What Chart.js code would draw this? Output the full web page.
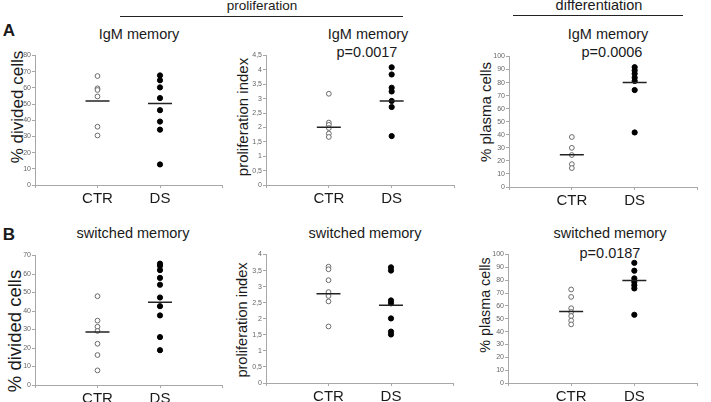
<!DOCTYPE html>
<html>
<head>
<meta charset="utf-8">
<script src="https://cdn.jsdelivr.net/npm/chart.js@4.4.1/dist/chart.umd.min.js"></script>
<style>
  html, body { margin: 0; padding: 0; background: #fff; }
  body {
    width: 711px; height: 402px; position: relative; overflow: hidden;
    font-family: "Liberation Sans", Arial, sans-serif; color: #1a1a1a;
  }
  canvas { position: absolute; }
  .lbl { position: absolute; transform: translate(-50%, -50%); white-space: nowrap; line-height: 1; font-size: 14.5px; }
  .ytl { position: absolute; transform: translate(-50%, -50%) rotate(-90deg); white-space: nowrap; line-height: 1; }
  .rule { position: absolute; height: 0; border-top: 1px solid #222; }
</style>
</head>
<body>

<!-- group headers -->
<div class="lbl" style="left:262px; top:6px; font-size:13.5px;">proliferation</div>
<div class="rule" style="left:120px; top:16px; width:283px;"></div>
<div class="lbl" style="left:599px; top:4.5px;">differentiation</div>
<div class="rule" style="left:513px; top:15px; width:170px;"></div>

<div class="lbl" style="left:9px; top:30px; font-size:17px; font-weight:bold;">A</div>
<div class="lbl" style="left:9px; top:234px; font-size:17px; font-weight:bold;">B</div>

<!-- panel titles -->
<div class="lbl" style="left:139px; top:34px;">IgM memory</div>
<div class="lbl" style="left:368px; top:34px;">IgM memory</div>
<div class="lbl" style="left:367px; top:52px;">p=0.0017</div>
<div class="lbl" style="left:608px; top:34px;">IgM memory</div>
<div class="lbl" style="left:612px; top:52px;">p=0.0006</div>
<div class="lbl" style="left:133px; top:233px;">switched memory</div>
<div class="lbl" style="left:365px; top:233px;">switched memory</div>
<div class="lbl" style="left:610px; top:233px;">switched memory</div>
<div class="lbl" style="left:610px; top:252.5px;">p=0.0187</div>

<!-- y axis titles -->
<div class="ytl" style="left:17px; top:107px; font-size:17px;">% divided cells</div>
<div class="ytl" style="left:242px; top:117px; font-size:15px;">proliferation index</div>
<div class="ytl" style="left:485px; top:112px; font-size:15px;">% plasma cells</div>
<div class="ytl" style="left:15px; top:331px; font-size:18.5px;">% divided cells</div>
<div class="ytl" style="left:242px; top:320px; font-size:14.6px;">proliferation index</div>
<div class="ytl" style="left:485px; top:305px; font-size:14.3px;">% plasma cells</div>

<script>
// ---- data ----
const groups = ['CTR', 'DS'];

// A: IgM memory
const igmDividedCTR = [67.3, 59.7, 58.7, 54.7, 36.0, 30.6];
const igmDividedDS = [67.7, 64.7, 60.3, 53.7, 46.2, 39.2, 34.2, 12.7];
const igmDividedMean = [51.9, 50.4];

const igmIndexCTR = [3.17, 2.17, 2.09, 1.98, 1.79, 1.67];
const igmIndexDS = [4.09, 3.84, 3.38, 3.25, 2.92, 2.71, 1.70];
const igmIndexMean = [2.01, 2.92];

const igmPlasmaCTR = [38.3, 30.0, 24.5, 17.5, 14.5];
const igmPlasmaDS = [91.8, 89.3, 86.8, 83.8, 81.3, 74.3, 41.8];
const igmPlasmaMean = [24.8, 80.0];

// B: switched memory
const swDividedCTR = [48.0, 34.8, 31.5, 29.2, 22.3, 16.2, 7.9];
const swDividedDS = [65.6, 64.4, 62.1, 57.9, 54.2, 47.3, 42.6, 37.6, 25.9, 18.8];
const swDividedMean = [28.7, 44.7];

const swIndexCTR = [3.62, 3.54, 3.20, 2.83, 2.71, 2.54, 1.76];
const swIndexDS = [3.60, 3.50, 2.57, 2.48, 2.01, 1.60, 1.51];
const swIndexMean = [2.78, 2.42];

const swPlasmaCTR = [72.8, 67.0, 58.2, 55.2, 52.1, 48.6, 45.6];
const swPlasmaDS = [93.5, 87.4, 81.4, 78.6, 76.1, 73.6, 53.1];
const swPlasmaMean = [55.7, 79.8];

// y axis ranges (max, step)
const yMax = [80, 4.5, 100, 70, 4, 100];
const yStep = [10, 0.5, 10, 10, 0.5, 10];

// ---- layout (pixel boxes of each plot) ----
const AXIS = '#a8a8a8';
const FONT = "'Liberation Sans', Arial, sans-serif";

const panels = [
  { ctr: igmDividedCTR, ds: igmDividedDS, mean: igmDividedMean, left: 8,   axisX: 35,  axisEnd: 235, top: 52,  bottom: 185 },
  { ctr: igmIndexCTR,   ds: igmIndexDS,   mean: igmIndexMean,   left: 234, axisX: 266, axisEnd: 467, top: 52,  bottom: 185 },
  { ctr: igmPlasmaCTR,  ds: igmPlasmaDS,  mean: igmPlasmaMean,  left: 477, axisX: 509, axisEnd: 710, top: 53,  bottom: 187 },
  { ctr: swDividedCTR,  ds: swDividedDS,  mean: swDividedMean,  left: 8,   axisX: 35,  axisEnd: 235, top: 252, bottom: 385 },
  { ctr: swIndexCTR,    ds: swIndexDS,    mean: swIndexMean,    left: 234, axisX: 266, axisEnd: 466, top: 251, bottom: 383 },
  { ctr: swPlasmaCTR,   ds: swPlasmaDS,   mean: swPlasmaMean,   left: 477, axisX: 508, axisEnd: 710, top: 251, bottom: 383 },
];

function makePanel(p, i) {
  const padTop = 10, xAxisH = 24, padRight = 1;
  const w = p.axisEnd - p.left + padRight;
  const h = padTop + (p.bottom - p.top) + xAxisH;
  const c = document.createElement('canvas');
  c.width = w; c.height = h;
  c.style.left = p.left + 'px';
  c.style.top = (p.top - padTop) + 'px';
  c.style.width = w + 'px';
  c.style.height = h + 'px';
  document.body.appendChild(c);

  new Chart(c, {
    type: 'scatter',
    data: {
      datasets: [
        { // group mean bars
          data: p.mean.map((v, k) => ({ x: k + 1, y: v })),
          pointStyle: 'line', pointRadius: 12, borderColor: '#222', borderWidth: 1.5
        },
        { // CTR, open circles
          data: p.ctr.map(v => ({ x: 1, y: v })),
          pointStyle: 'circle', pointRadius: 2.4, backgroundColor: '#fff', borderColor: '#6a6a6a', borderWidth: 1
        },
        { // DS, filled circles
          data: p.ds.map(v => ({ x: 2, y: v })),
          pointStyle: 'circle', pointRadius: 2.6, backgroundColor: '#000', borderColor: '#000', borderWidth: 1
        }
      ]
    },
    options: {
      responsive: false, animation: false, devicePixelRatio: 1,
      layout: { padding: { top: padTop, right: padRight, left: 0, bottom: 0 } },
      plugins: { legend: { display: false }, tooltip: { enabled: false } },
      scales: {
        x: {
          type: 'linear', min: 0, max: 3,
          afterBuildTicks: s => { s.ticks = [0, 1, 2, 3].map(v => ({ value: v })); },
          afterFit: s => { s.height = xAxisH; },
          ticks: {
            autoSkip: false, maxRotation: 0, padding: 2, color: '#1a1a1a',
            font: { family: FONT, size: 15 },
            callback: v => groups[v - 1] || ''
          },
          grid: { drawOnChartArea: false, tickLength: 3, color: AXIS },
          border: { color: AXIS }
        },
        y: {
          min: 0, max: yMax[i],
          afterFit: s => { s.width = p.axisX - p.left; },
          ticks: {
            stepSize: yStep[i], padding: 1, color: '#666',
            font: { family: FONT, size: 7 },
            callback: v => String(v).replace('.', ',')
          },
          grid: { drawOnChartArea: false, tickLength: 3, color: AXIS },
          border: { color: AXIS }
        }
      }
    }
  });
}

panels.forEach(makePanel);
</script>
</body>
</html>
